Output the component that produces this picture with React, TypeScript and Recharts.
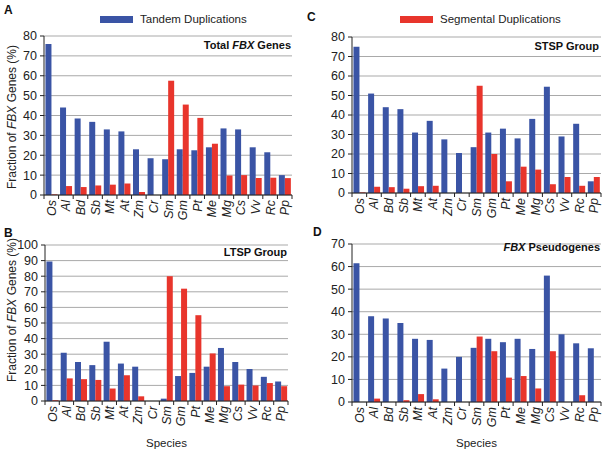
import React from 'react';
import { BarChart, Bar, XAxis, YAxis, CartesianGrid, Legend } from 'recharts';

const species = ['Os', 'Al', 'Bd', 'Sb', 'Mt', 'At', 'Zm', 'Cr', 'Sm', 'Gm', 'Pt', 'Me', 'Mg', 'Cs', 'Vv', 'Rc', 'Pp'];

// A: total FBX genes
const totalTandem = [76, 44, 38.5, 36.8, 33, 32, 23, 18.5, 18, 23, 22.5, 24, 33.5, 33, 24, 21.5, 10];
const totalSegmental = [0.3, 4.5, 4, 4.8, 5.2, 5.8, 1.5, 0, 57.5, 45.5, 38.8, 25.8, 9.8, 10, 8.5, 8.7, 8.5];

// B: LTSP group
const ltspTandem = [89.5, 31, 25, 23, 38, 24, 22, 0, 1.5, 16, 18, 22, 34, 25, 20.5, 15.5, 12.5];
const ltspSegmental = [0.5, 14.5, 14, 13.5, 8, 16.5, 3, 0, 80, 72, 55, 30.5, 9.5, 10.5, 10, 11.5, 9.5];

// C: STSP group
const stspTandem = [75, 51, 44, 43, 31, 37, 27.5, 20.5, 23.5, 31, 33, 28, 38, 54.5, 29, 35.5, 6];
const stspSegmental = [0.3, 3.2, 3, 2.2, 3.5, 3.7, 0, 0, 55, 20, 6, 13.5, 12, 4.5, 8.2, 3.7, 8.2];

// D: FBX pseudogenes
const pseudoTandem = [61.5, 38, 37, 35, 28, 27.5, 14.8, 20, 24, 28, 26.5, 28, 23.5, 56, 30, 26, 23.8];
const pseudoSegmental = [0, 1.5, 0, 0.8, 3.5, 1.2, 0, 0, 29, 22.5, 10.8, 11.5, 6, 22.5, 0, 3, 0];

const ticks80 = [0, 10, 20, 30, 40, 50, 60, 70, 80];
const ticks100 = [0, 10, 20, 30, 40, 50, 60, 70, 80, 90, 100];
const ticks70 = [0, 10, 20, 30, 40, 50, 60, 70];

const BLUE = '#3a54a5';
const RED = '#e8352c';
const INK = '#222';
const FONT = '"Liberation Sans", Arial, sans-serif';

const buildRows = (tandem: number[], segmental: number[]) =>
  species.map((s, i) => ({ species: s, tandem: tandem[i], segmental: segmental[i] }));

const SpeciesTick = ({ x, y, payload, index, band }: any) => (
  <g>
    <line x1={x - band / 2} x2={x - band / 2} y1={y} y2={y + 4} stroke={INK} />
    {index === species.length - 1 && (
      <line x1={x + band / 2} x2={x + band / 2} y1={y} y2={y + 4} stroke={INK} />
    )}
    <text
      transform={`translate(${x + 4.5},${y + 5}) rotate(-90)`}
      textAnchor="end"
      fontStyle="italic"
      fontSize={12.5}
      fontFamily={FONT}
      fill={INK}
    >
      {payload.value}
    </text>
  </g>
);

const legendContent = (label: string, color: string) => () => (
  <div style={{ display: 'flex', alignItems: 'center', fontFamily: FONT, fontSize: 11.5, color: INK, whiteSpace: 'nowrap' }}>
    <span style={{ display: 'inline-block', width: 33, height: 7, background: color, marginRight: 7 }} />
    {label}
  </div>
);

interface PanelProps {
  left: number;
  top: number;
  width: number;
  height: number;
  plot: { l: number; t: number; r: number; b: number };
  rows: any[];
  yMax: number;
  ticks: number[];
  letter: string;
  letterPos: [number, number];
  title: React.ReactNode;
  titleRight: number;
  titleY: number;
  yLabelY?: number;
  xLabel?: boolean;
  legend?: { label: string; color: string; x: number; y: number };
}

function Panel(p: PanelProps) {
  const band = (p.plot.r - p.plot.l) / species.length;
  return (
    <div style={{ position: 'absolute', left: p.left, top: p.top, width: p.width, height: p.height }}>
      <BarChart
        width={p.width}
        height={p.height}
        data={p.rows}
        margin={{ top: p.plot.t - p.top, right: p.left + p.width - p.plot.r, left: 0, bottom: 0 }}
        barCategoryGap="10%"
        barGap={0}
      >
        <CartesianGrid vertical={false} stroke="#a9a9a9" />
        <XAxis
          dataKey="species"
          height={p.top + p.height - p.plot.b}
          interval={0}
          tickLine={false}
          tickSize={0}
          tickMargin={0}
          axisLine={{ stroke: INK }}
          tick={(t: any) => <SpeciesTick {...t} band={band} />}
          label={
            p.xLabel
              ? { value: 'Species', position: 'insideBottom', offset: 5, style: { fontSize: 11.5, fontFamily: FONT, fill: INK } }
              : undefined
          }
        />
        <YAxis
          width={p.plot.l - p.left}
          domain={[0, p.yMax]}
          ticks={p.ticks}
          interval={0}
          tickSize={4}
          tickMargin={3}
          axisLine={{ stroke: INK }}
          tickLine={{ stroke: INK }}
          tick={{ fontSize: 12.5, fill: INK, fontFamily: FONT }}
          label={
            p.yLabelY !== undefined
              ? {
                  content: () => (
                    <text
                      transform={`translate(12,${p.yLabelY}) rotate(-90)`}
                      textAnchor="middle"
                      dominantBaseline="central"
                      fontSize={12}
                      fontFamily={FONT}
                      fill={INK}
                    >
                      <tspan>Fraction of </tspan>
                      <tspan fontStyle="italic">FBX</tspan>
                      <tspan> Genes (%)</tspan>
                    </text>
                  ),
                }
              : undefined
          }
        />
        {p.legend && (
          <Legend
            layout="horizontal"
            verticalAlign="middle"
            align="center"
            wrapperStyle={{ left: p.legend.x - p.left, top: p.legend.y - p.top - 7, width: 200, height: 14 }}
            content={legendContent(p.legend.label, p.legend.color)}
          />
        )}
        <Bar dataKey="tandem" fill={BLUE} isAnimationActive={false} />
        <Bar dataKey="segmental" fill={RED} isAnimationActive={false} />
      </BarChart>
      <div
        style={{
          position: 'absolute',
          left: p.letterPos[0] - p.left,
          top: p.letterPos[1] - p.top - 7,
          lineHeight: '14px',
          fontFamily: FONT,
          fontWeight: 'bold',
          fontSize: 12,
          color: '#111',
        }}
      >
        {p.letter}
      </div>
      <div
        style={{
          position: 'absolute',
          right: p.left + p.width - p.titleRight,
          top: p.titleY - p.top - 7,
          lineHeight: '14px',
          fontFamily: FONT,
          fontWeight: 'bold',
          fontSize: 11,
          color: '#111',
          whiteSpace: 'nowrap',
        }}
      >
        {p.title}
      </div>
    </div>
  );
}

export default function App() {
  return (
    <div style={{ position: 'absolute', left: 0, top: 0, width: 603, height: 452, background: '#fff', overflow: 'hidden' }}>
      <Panel
        left={0}
        top={0}
        width={300}
        height={222}
        plot={{ l: 44, t: 36, r: 292, b: 195 }}
        rows={buildRows(totalTandem, totalSegmental)}
        yMax={80}
        ticks={ticks80}
        letter="A"
        letterPos={[4, 10]}
        title={<span>Total <i>FBX</i> Genes</span>}
        titleRight={291}
        titleY={45}
        yLabelY={117}
        legend={{ label: 'Tandem Duplications', color: BLUE, x: 100, y: 20 }}
      />
      <Panel
        left={300}
        top={0}
        width={303}
        height={222}
        plot={{ l: 352, t: 37, r: 601, b: 193 }}
        rows={buildRows(stspTandem, stspSegmental)}
        yMax={80}
        ticks={ticks80}
        letter="C"
        letterPos={[307, 17]}
        title="STSP Group"
        titleRight={599}
        titleY={46}
        legend={{ label: 'Segmental Duplications', color: RED, x: 400, y: 20 }}
      />
      <Panel
        left={0}
        top={222}
        width={300}
        height={230}
        plot={{ l: 45, t: 245, r: 288, b: 401 }}
        rows={buildRows(ltspTandem, ltspSegmental)}
        yMax={100}
        ticks={ticks100}
        letter="B"
        letterPos={[4, 233]}
        title="LTSP Group"
        titleRight={287}
        titleY={252}
        yLabelY={88}
        xLabel
      />
      <Panel
        left={300}
        top={222}
        width={303}
        height={230}
        plot={{ l: 352, t: 244, r: 601, b: 402 }}
        rows={buildRows(pseudoTandem, pseudoSegmental)}
        yMax={70}
        ticks={ticks70}
        letter="D"
        letterPos={[313, 232]}
        title={<span><i>FBX</i> Pseudogenes</span>}
        titleRight={600}
        titleY={247}
        xLabel
      />
    </div>
  );
}
